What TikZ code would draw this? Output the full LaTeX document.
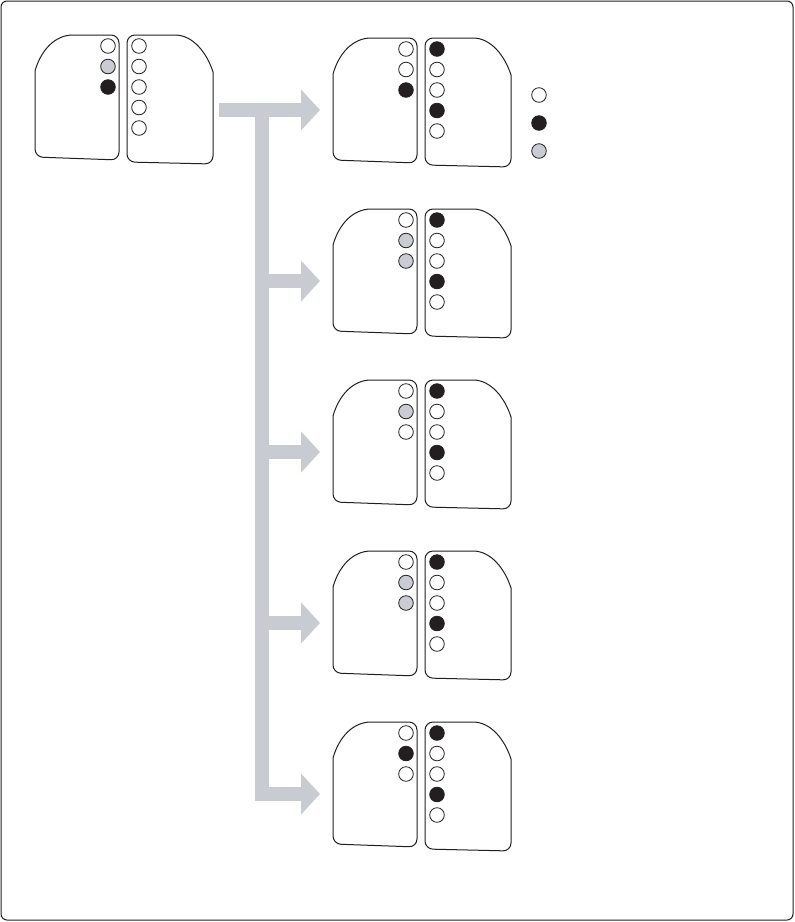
\documentclass[tikz,border=0pt]{standalone}
\usepackage{tikz}
\usepackage{xcolor}
\usetikzlibrary{arrows.meta}
\definecolor{ink}{HTML}{231F20}
\definecolor{pin-grey}{HTML}{C9CCD3}
\definecolor{bar-grey}{HTML}{C8CBD2}
\tikzset{
    pad-outline/.style = {draw=ink, line width=1pt, fill=white, line cap=round},
    dot-white/.style = {draw=ink, line width=0.8pt, fill=white},
    dot-black/.style = {draw=ink, line width=0.8pt, fill=ink},
    dot-grey/.style = {draw=ink, line width=0.8pt, fill=pin-grey},
    fat-arrow/.style = {draw=bar-grey, line width=14pt, line join=miter, -{Triangle[width=40pt, length=19pt]}},
    frame/.style = {draw=ink, line width=1pt, rounded corners=6pt},
}
% #1 name, #2 top left corner, #3 left column, #4 right column
\newcommand{\padpair}[4]{%
  \begin{scope}[shift={(#2)}]
    \coordinate (#1) at (0,0);
    \coordinate (#1-in) at (-13,72);
    \coordinate (#1-out) at (184,75);
    \draw[pad-outline] (38,0) .. controls (20,0) and (6,15) .. (0,36) -- (0,50)
        [rounded corners=8pt] -- (0,122) -- (84,125) -- (84,0) -- (38,0);
    \draw[pad-outline] (140,0) .. controls (158,0) and (172,18) .. (178,37) -- (178,50)
        [rounded corners=8pt] -- (178,129) -- (92,127) -- (92,0) -- (140,0);
    \foreach \c [count=\i from 0] in {#3}
      \draw[dot-\c] (73,11+20.5*\i) circle[radius=7.3pt];
    \foreach \c [count=\i from 0] in {#4}
      \draw[dot-\c] (104,11+20.5*\i) circle[radius=7.3pt];
  \end{scope}}

\begin{document}
\begin{tikzpicture}[x=1pt, y=-1pt]
\useasboundingbox (0,0) rectangle (795,922);
\draw[frame] (1,1) rectangle (793,920);

\padpair{u1}{35,35}{white,grey,black}{white,white,white,white,white}
\padpair{u2}{333,38}{white,white,black}{black,white,white,black,white}
\padpair{u3}{333,209}{white,grey,grey}{black,white,white,black,white}
\padpair{u4}{333,380}{white,grey,white}{black,white,white,black,white}
\padpair{u5}{333,551}{white,grey,grey}{black,white,white,black,white}
\padpair{u6}{333,722}{white,black,white}{black,white,white,black,white}

% legend
\draw[dot-white] (539,95) circle[radius=7.3pt];
\draw[dot-black] (539,123) circle[radius=7.3pt];
\draw[dot-grey] (539,151) circle[radius=7.3pt];

% arrows
\coordinate (trunk) at (262,110);
\draw[fat-arrow] (u1-out) -- (u2-in);
\draw[fat-arrow] (trunk) |- (u6-in);
\draw[fat-arrow] (trunk |- u3-in) -- (u3-in);
\draw[fat-arrow] (trunk |- u4-in) -- (u4-in);
\draw[fat-arrow] (trunk |- u5-in) -- (u5-in);
\end{tikzpicture}
\end{document}
